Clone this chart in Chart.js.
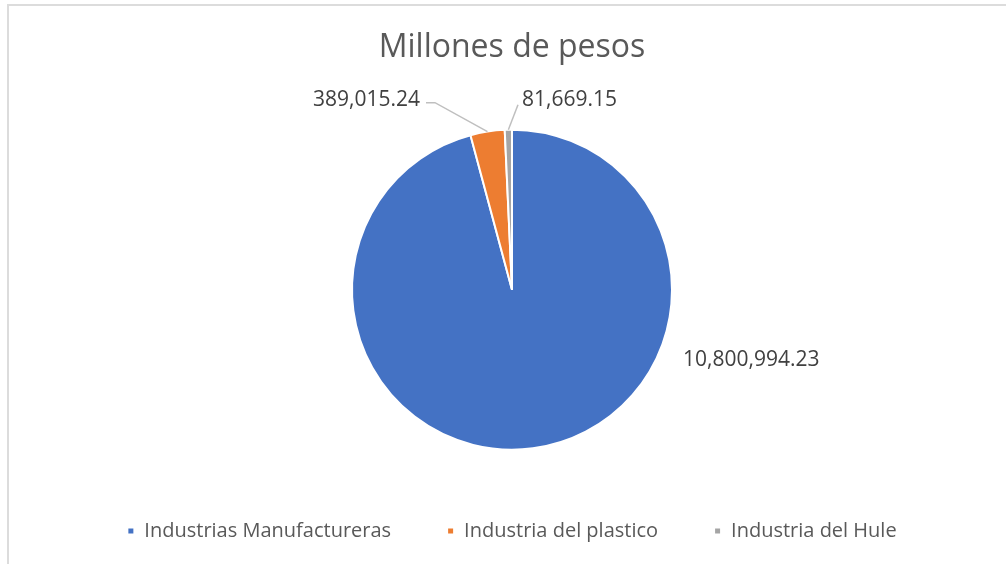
<!DOCTYPE html>
<html>
<head>
<meta charset="utf-8">
<script src="https://cdn.jsdelivr.net/npm/chart.js@4.4.1/dist/chart.umd.min.js"></script>
<style>
  html, body { margin: 0; padding: 0; background: #fff; }
  #wrap { position: relative; width: 1006px; height: 564px; overflow: hidden; }
  #frame { position: absolute; left: 7px; top: 4px; width: 1100px; height: 700px;
           border-left: 2px solid #dcdcdc; border-top: 2px solid #dcdcdc; }
  #c { position: absolute; left: 0; top: 0; }
</style>
</head>
<body>
<div id="wrap">
  <div id="frame"></div>
  <canvas id="c" width="1006" height="564"></canvas>
</div>
<script>
// datos
const categorias = ['Industrias Manufactureras', 'Industria del plastico', 'Industria del Hule'];
const valores = [10800994.23, 389015.24, 81669.15];
const colores = ['#4472c4', '#ed7d31', '#a5a5a5'];

// posicion de las etiquetas respecto al centro del pastel (px), alineacion y si llevan linea guia
const etiquetas = [
    { dx: 171, dy: 70, align: 'left', guia: false },
    { dx: -92, dy: -190, align: 'right', guia: true },
    { dx: 10, dy: -190, align: 'left', guia: true }
];

const fmt = new Intl.NumberFormat('en-US', { minimumFractionDigits: 2, maximumFractionDigits: 2 });
const FONT = "'Open Sans', 'Noto Sans', sans-serif";

const etiquetasPlugin = {
    id: 'etiquetas',
    afterDatasetsDraw(chart) {
        const ctx = chart.ctx;
        const meta = chart.getDatasetMeta(0);
        ctx.save();
        ctx.font = '21px ' + FONT;
        ctx.textBaseline = 'middle';
        meta.data.forEach((arc, i) => {
            const p = arc.getProps(['x', 'y', 'startAngle', 'endAngle', 'outerRadius'], true);
            const e = etiquetas[i];
            const tx = p.x + e.dx, ty = p.y + e.dy;
            const txt = fmt.format(valores[i]);
            if (e.guia) {
                const mid = (p.startAngle + p.endAngle) / 2;
                const ax = p.x + Math.cos(mid) * p.outerRadius;
                const ay = p.y + Math.sin(mid) * p.outerRadius;
                ctx.strokeStyle = '#bfbfbf';
                ctx.lineWidth = 1.5;
                ctx.beginPath();
                if (e.align === 'right') {
                    ctx.moveTo(tx + 6, ty + 3);
                    ctx.lineTo(tx + 15, ty + 3);
                } else {
                    ctx.moveTo(tx - 4, ty + 5);
                }
                ctx.lineTo(ax, ay);
                ctx.stroke();
            }
            ctx.fillStyle = '#404040';
            ctx.textAlign = e.align;
            ctx.fillText(txt, tx, ty);
        });
        ctx.restore();
    }
};

new Chart(document.getElementById('c'), {
    type: 'pie',
    data: {
        labels: categorias,
        datasets: [{
            data: valores,
            backgroundColor: colores,
            borderColor: '#ffffff',
            borderWidth: 2,
            radius: 160
        }]
    },
    options: {
        responsive: false,
        animation: false,
        layout: { padding: { left: 18, top: 29, bottom: 13 } },
        plugins: {
            title: {
                display: true,
                text: 'Millones de pesos',
                color: '#595959',
                font: { family: FONT, size: 32, weight: 'normal' },
                padding: { top: 0, bottom: 47 }
            },
            legend: {
                position: 'bottom',
                labels: {
                    color: '#595959',
                    font: { family: FONT, size: 20 },
                    boxWidth: 7,
                    boxHeight: 7,
                    padding: 56
                }
            },
            tooltip: { enabled: false }
        }
    },
    plugins: [etiquetasPlugin]
});
</script>
</body>
</html>
